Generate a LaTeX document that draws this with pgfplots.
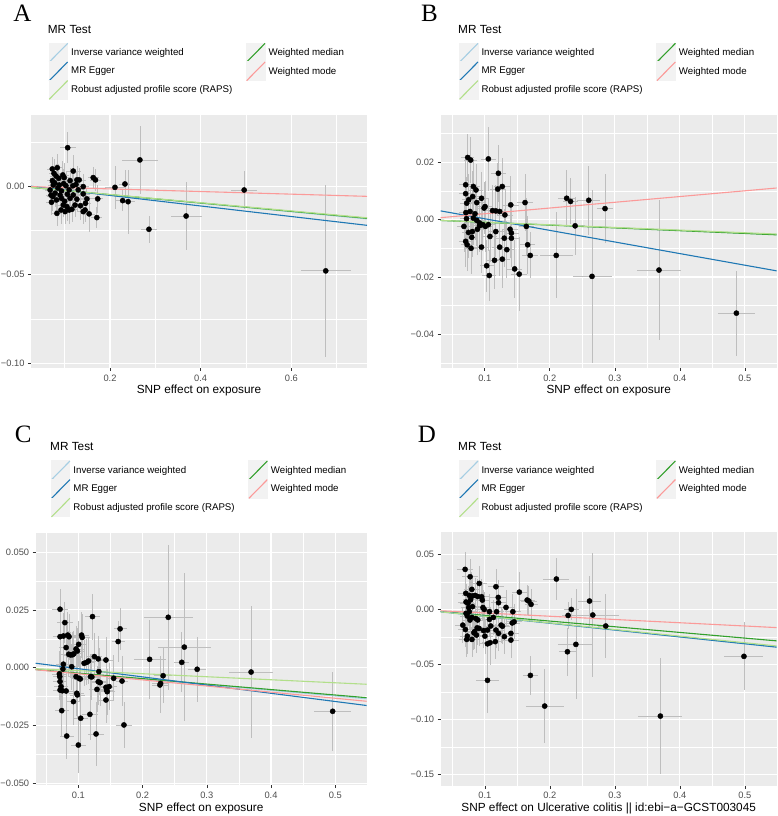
\documentclass[border=0pt]{standalone}
\usepackage{fontspec}
\setmainfont{Liberation Sans}
\newfontfamily\letterfont{Liberation Serif}
\usepackage{pgfplots}
\usepackage{pgfplotstable}
\pgfplotsset{compat=1.18}

\definecolor{ggbg}{HTML}{EBEBEB}
\definecolor{ggkey}{HTML}{F2F2F2}
\definecolor{ggerr}{HTML}{BEBEBE}
\definecolor{ggtick}{HTML}{333333}
\definecolor{ggtxt}{HTML}{4D4D4D}
\definecolor{cIVW}{HTML}{A6CEE3}
\definecolor{cEgger}{HTML}{1F78B4}
\definecolor{cRAPS}{HTML}{B2DF8A}
\definecolor{cWMed}{HTML}{33A02C}
\definecolor{cWMode}{HTML}{FB9A99}

\tikzset{
  ivw/.style={color=cIVW, line width=1.1pt},
  egger/.style={color=cEgger, line width=1.1pt},
  raps/.style={color=cRAPS, line width=1.1pt},
  wmed/.style={color=cWMed, line width=1.1pt},
  wmode/.style={color=cWMode, line width=1.1pt},
}

\pgfplotsset{
  ggplot/.style={
    scale only axis, anchor=south west, enlargelimits=false,
    scaled x ticks=false, scaled y ticks=false,
    axis background/.style={fill=ggbg},
    axis line style={draw=none},
    grid=both,
    major grid style={color=white, line width=1.1pt},
    minor grid style={color=white, line width=0.55pt},
    tick align=outside, tick pos=left,
    major tick length=3pt, minor tick length=0pt,
    tick style={color=ggtick, line width=0.55pt},
    ticklabel style={font=\fontsize{9.3}{10}\selectfont, text=ggtxt},
    xlabel style={font=\fontsize{11.8}{13}\selectfont, at={(axis description cs:0.5,0)}, anchor=base, yshift=-26pt},
    legend columns=2,
    legend cell align=left,
    legend style={draw=none, fill=none, anchor=north west,
      font=\fontsize{9.7}{11}\selectfont,
      inner sep=0pt, outer sep=0pt, row sep=-1.2pt,
      nodes={inner xsep=3pt, inner ysep=0pt},
      /tikz/column 2/.style={column sep=10.7pt}},
    legend image code/.code={
      \fill[ggkey] (0pt,-9.35pt) rectangle (18.4pt,9.35pt);
      \draw[overlay] (0pt,-9.35pt) -- (18.4pt,9.35pt);},
  },
  errs/.style={draw=none, mark=none, forget plot,
    error bars/.cd, x dir=both, x explicit, y dir=both, y explicit,
    error mark=none, error bar style={draw=ggerr, line width=0.75pt}},
  pts/.style={only marks, mark=*, mark size=2.6pt, color=black, forget plot},
}

% panel A
\pgfplotstableread{
x y xe ye
0.1067 0.0218 0.018 0.0088
0.266 0.0149 0.040 0.019
0.211 -0.0006 0.022 0.012
0.233 0.0013 0.012 0.008
0.228 -0.0081 0.014 0.006
0.240 -0.0087 0.015 0.018
0.286 -0.0243 0.017 0.0077
0.368 -0.0168 0.034 0.019
0.496 -0.0021 0.029 0.011
0.676 -0.0478 0.055 0.0485
0.0728 0.0098 0.012 0.007
0.0838 0.0105 0.013 0.008
0.0765 0.0073 0.012 0.008
0.081 0.0058 0.013 0.007
0.119 0.0086 0.016 0.009
0.096 0.0064 0.014 0.008
0.099 0.0049 0.015 0.008
0.112 0.0032 0.016 0.007
0.127 0.0036 0.017 0.008
0.132 0.0036 0.016 0.007
0.163 0.0049 0.012 0.006
0.168 0.0036 0.013 0.006
0.073 0.0032 0.012 0.007
0.075 0.0007 0.012 0.008
0.088 0.0007 0.013 0.007
0.103 0.0003 0.015 0.008
0.141 -0.0002 0.013 0.007
0.118 0.0003 0.015 0.008
0.068 -0.0021 0.011 0.007
0.079 -0.0039 0.012 0.008
0.093 -0.0026 0.014 0.007
0.106 -0.0045 0.015 0.008
0.119 -0.0049 0.015 0.007
0.141 -0.0043 0.014 0.006
0.074 -0.0058 0.012 0.008
0.082 -0.0077 0.012 0.007
0.093 -0.0068 0.014 0.008
0.071 -0.0090 0.012 0.007
0.112 -0.0068 0.015 0.008
0.127 -0.0073 0.015 0.007
0.149 -0.0071 0.013 0.006
0.146 -0.0096 0.013 0.007
0.173 -0.0071 0.012 0.008
0.097 -0.0106 0.014 0.007
0.105 -0.0115 0.015 0.008
0.123 -0.0106 0.015 0.007
0.116 -0.0130 0.014 0.007
0.092 -0.0134 0.013 0.008
0.101 -0.0143 0.014 0.007
0.145 -0.0134 0.012 0.007
0.083 -0.0153 0.012 0.007
0.110 -0.0134 0.014 0.008
0.154 -0.0156 0.013 0.010
0.171 -0.0177 0.012 0.006
0.141 -0.0143 0.012 0.007
0.085 -0.0010 0.013 0.008
0.078 0.0020 0.012 0.007
0.090 -0.0050 0.013 0.008
0.100 -0.0085 0.014 0.007
0.130 -0.0020 0.015 0.007
0.135 -0.0110 0.014 0.008
0.098 0.0015 0.014 0.008
0.125 0.0010 0.015 0.007
0.110 -0.0020 0.015 0.007
0.087 0.0045 0.013 0.008
0.070 -0.0050 0.011 0.007
}\dataA

% panel B
\pgfplotstableread{
x y xe ye
0.0738 0.0216 0.010 0.0081
0.0784 0.0207 0.010 0.0080
0.1056 0.0211 0.012 0.011
0.121 0.0161 0.012 0.010
0.127 0.0115 0.012 0.010
0.120 0.0106 0.012 0.009
0.0707 0.0121 0.010 0.009
0.0825 0.0115 0.010 0.009
0.0866 0.0103 0.011 0.009
0.0707 0.0090 0.010 0.009
0.0815 0.0080 0.010 0.009
0.0754 0.0069 0.010 0.009
0.0723 0.0057 0.010 0.009
0.0877 0.0059 0.011 0.009
0.095 0.0074 0.011 0.009
0.1005 0.0045 0.011 0.009
0.099 0.0040 0.011 0.009
0.140 0.0051 0.012 0.010
0.162 0.0059 0.012 0.010
0.071 0.0024 0.010 0.009
0.0774 0.0028 0.010 0.009
0.085 0.0020 0.011 0.009
0.112 0.0031 0.012 0.009
0.117 0.0030 0.012 0.009
0.123 0.0028 0.012 0.009
0.131 0.0016 0.012 0.009
0.072 0.0003 0.010 0.009
0.0825 0.0005 0.010 0.009
0.0877 -0.0003 0.011 0.009
0.092 -0.0012 0.011 0.009
0.097 -0.0018 0.011 0.009
0.101 -0.0024 0.011 0.009
0.092 -0.0022 0.011 0.009
0.1056 -0.0018 0.011 0.009
0.068 -0.0024 0.010 0.009
0.075 -0.0045 0.010 0.009
0.081 -0.0042 0.010 0.009
0.0887 -0.0034 0.011 0.009
0.117 -0.0042 0.012 0.009
0.139 -0.0034 0.012 0.010
0.141 -0.0047 0.012 0.010
0.164 -0.0024 0.012 0.010
0.0707 -0.0076 0.010 0.009
0.073 -0.0088 0.010 0.009
0.080 -0.0062 0.010 0.009
0.079 -0.0100 0.010 0.009
0.108 -0.0059 0.011 0.009
0.130 -0.0065 0.012 0.010
0.141 -0.0065 0.012 0.010
0.095 -0.0096 0.011 0.009
0.123 -0.0096 0.012 0.010
0.134 -0.0105 0.012 0.010
0.166 -0.0088 0.012 0.010
0.170 -0.0125 0.012 0.008
0.115 -0.0142 0.012 0.010
0.127 -0.0138 0.012 0.010
0.103 -0.0161 0.011 0.009
0.107 -0.0195 0.011 0.009
0.146 -0.0172 0.012 0.010
0.153 -0.0190 0.012 0.013
0.210 -0.0125 0.025 0.015
0.226 0.0074 0.013 0.010
0.232 0.0063 0.012 0.008
0.239 -0.0022 0.015 0.010
0.260 0.0067 0.018 0.012
0.285 0.0038 0.013 0.012
0.265 -0.0198 0.030 0.030
0.368 -0.0176 0.034 0.0245
0.487 -0.0326 0.029 0.0148
}\dataB

% panel C
\pgfplotstableread{
x y xe ye
0.0715 0.0253 0.012 0.0088
0.079 0.0195 0.012 0.009
0.122 0.0221 0.012 0.010
0.0715 0.0134 0.011 0.010
0.0767 0.0137 0.011 0.010
0.0834 0.0141 0.011 0.010
0.0855 0.0134 0.011 0.010
0.081 0.0087 0.011 0.010
0.085 0.0058 0.012 0.010
0.088 0.0055 0.012 0.010
0.093 0.0060 0.012 0.010
0.091 0.0056 0.012 0.010
0.0964 0.0081 0.012 0.010
0.1005 0.0101 0.012 0.010
0.0985 0.0072 0.012 0.010
0.105 0.0141 0.012 0.010
0.106 0.0131 0.012 0.010
0.162 0.0113 0.010 0.009
0.165 0.0168 0.010 0.009
0.109 0.0019 0.012 0.010
0.113 0.0023 0.012 0.010
0.116 0.0029 0.012 0.010
0.125 0.0048 0.012 0.010
0.131 0.0038 0.012 0.010
0.143 0.0033 0.012 0.010
0.0767 0.0015 0.011 0.010
0.0897 0.0004 0.011 0.010
0.0705 -0.0027 0.011 0.010
0.071 -0.0039 0.011 0.010
0.076 -0.0006 0.011 0.010
0.0964 -0.0039 0.012 0.010
0.101 -0.0046 0.012 0.010
0.103 -0.0049 0.012 0.010
0.119 -0.0039 0.012 0.010
0.121 -0.0040 0.012 0.010
0.132 -0.0017 0.012 0.010
0.131 -0.0061 0.012 0.010
0.134 -0.0065 0.012 0.010
0.129 -0.0094 0.012 0.010
0.143 -0.0085 0.012 0.010
0.144 -0.0097 0.012 0.010
0.145 -0.0104 0.012 0.010
0.143 -0.0140 0.012 0.010
0.148 -0.0082 0.012 0.010
0.155 -0.0046 0.012 0.010
0.168 -0.0058 0.010 0.011
0.0715 -0.0060 0.011 0.010
0.073 -0.0082 0.011 0.010
0.0715 -0.0097 0.011 0.010
0.081 -0.0101 0.011 0.010
0.075 -0.0100 0.011 0.010
0.0975 -0.0111 0.012 0.010
0.0985 -0.0118 0.012 0.010
0.0924 -0.0147 0.012 0.010
0.0741 -0.0186 0.011 0.011
0.118 -0.0202 0.012 0.011
0.1037 -0.0219 0.012 0.011
0.171 -0.0248 0.012 0.010
0.1276 -0.0287 0.012 0.014
0.0819 -0.0296 0.011 0.010
0.100 -0.0335 0.012 0.012
0.211 0.0036 0.025 0.017
0.240 0.0218 0.038 0.0315
0.265 0.0089 0.041 0.032
0.261 0.0023 0.012 0.013
0.232 -0.0035 0.014 0.012
0.227 -0.0075 0.013 0.012
0.228 -0.0068 0.013 0.012
0.285 -0.0007 0.014 0.014
0.369 -0.0019 0.034 0.0286
0.496 -0.0189 0.029 0.017
}\dataC

% panel D
\pgfplotstableread{
x y xe ye
0.0696 0.0367 0.012 0.016
0.0773 0.0300 0.012 0.016
0.0913 0.0239 0.012 0.016
0.0706 0.0149 0.012 0.016
0.0799 0.0185 0.012 0.016
0.117 0.0209 0.012 0.016
0.1206 0.0112 0.012 0.016
0.153 0.0160 0.012 0.018
0.165 0.0088 0.012 0.014
0.1676 0.0079 0.012 0.014
0.171 0.0049 0.010 0.014
0.210 0.0279 0.020 0.019
0.261 0.0079 0.018 0.023
0.266 -0.0048 0.041 0.056
0.233 0.0003 0.012 0.010
0.228 -0.0052 0.010 0.012
0.286 -0.0148 0.012 0.029
0.227 -0.0382 0.013 0.022
0.240 -0.0315 0.027 0.050
0.170 -0.0597 0.012 0.0177
0.192 -0.0876 0.029 0.034
0.104 -0.0642 0.0175 0.030
0.370 -0.0967 0.034 0.053
0.4986 -0.0424 0.030 0.031
0.076 0.0130 0.012 0.016
0.081 0.0125 0.012 0.016
0.085 0.0130 0.012 0.016
0.089 0.0120 0.012 0.016
0.071 0.0070 0.012 0.016
0.074 0.0060 0.012 0.016
0.078 0.0090 0.012 0.016
0.095 0.0118 0.012 0.016
0.096 0.0088 0.012 0.016
0.081 0.0028 0.012 0.016
0.097 0.0020 0.012 0.016
0.099 0.0003 0.012 0.016
0.107 -0.0018 0.012 0.016
0.118 -0.0018 0.012 0.016
0.121 0.0064 0.012 0.016
0.1325 0.0021 0.012 0.016
0.143 -0.0018 0.012 0.016
0.145 -0.0110 0.012 0.016
0.142 -0.0120 0.012 0.016
0.140 -0.0215 0.012 0.016
0.140 -0.0276 0.012 0.016
0.130 -0.0245 0.012 0.016
0.125 -0.0140 0.012 0.016
0.127 -0.0150 0.012 0.016
0.113 -0.0070 0.012 0.016
0.107 -0.0088 0.012 0.016
0.109 -0.0148 0.012 0.016
0.117 -0.0185 0.012 0.016
0.121 -0.0215 0.012 0.016
0.116 -0.0290 0.012 0.016
0.108 -0.0300 0.012 0.020
0.104 -0.0310 0.012 0.020
0.100 -0.0240 0.012 0.016
0.104 -0.0185 0.012 0.016
0.091 -0.0170 0.012 0.016
0.098 -0.0190 0.012 0.016
0.088 -0.0165 0.012 0.016
0.084 -0.0200 0.012 0.016
0.087 -0.0230 0.012 0.016
0.077 -0.0094 0.012 0.016
0.080 -0.0070 0.012 0.016
0.071 -0.0033 0.012 0.016
0.073 -0.0057 0.012 0.016
0.066 -0.0140 0.012 0.016
0.070 -0.0180 0.012 0.016
0.073 -0.0240 0.012 0.016
0.072 -0.0270 0.012 0.016
0.080 -0.0270 0.012 0.016
0.083 -0.0210 0.012 0.016
0.086 -0.0080 0.012 0.016
0.089 -0.0093 0.012 0.016
0.075 0.0020 0.012 0.016
0.076 -0.0018 0.012 0.016
}\dataD

\begin{document}
\begin{tikzpicture}
\useasboundingbox (0pt,0pt) rectangle (778pt,816pt);

% ---------- A ----------
\begin{axis}[ggplot, at={(31pt,448pt)}, width=336pt, height=253pt,
  xmin=0.0258, xmax=0.767, ymin=-0.1027, ymax=0.0403,
  xtick={0.2,0.4,0.6}, xticklabels={0.2,0.4,0.6},
  minor xtick={0.1,0.3,0.5,0.7},
  ytick={-0.1,-0.05,0}, yticklabels={−0.10,−0.05,0.00},
  minor ytick={-0.075,-0.025,0.025},
  xlabel={SNP effect on exposure},
  legend style={at={(0.0527,1.2853)}}]
  \addplot[errs] table[x=x, y=y, x error=xe, y error=ye] {\dataA};
  \addplot[pts] table[x=x, y=y] {\dataA};
  \addplot[ivw] coordinates {(0.0258,-0.00062) (0.767,-0.01841)};
  \addlegendentry{Inverse variance weighted}
  \addplot[wmed] coordinates {(0.0258,-0.00061) (0.767,-0.0181)};
  \addlegendentry{Weighted median}
  \addplot[egger] coordinates {(0.0258,0.00003) (0.767,-0.02206)};
  \addlegendentry{MR Egger}
  \addplot[wmode] coordinates {(0.0258,-0.00019) (0.767,-0.00568)};
  \addlegendentry{Weighted mode}
  \addplot[raps] coordinates {(0.0258,-0.0006) (0.767,-0.0178)};
  \addlegendentry{Robust adjusted profile score (RAPS)}
\end{axis}

% ---------- B ----------
\begin{axis}[ggplot, at={(440.7pt,448pt)}, width=336pt, height=253pt,
  xmin=0.0323, xmax=0.549, ymin=-0.0517, ymax=0.0364,
  xtick={0.1,0.2,0.3,0.4,0.5}, xticklabels={0.1,0.2,0.3,0.4,0.5},
  minor xtick={0.05,0.15,0.25,0.35,0.45},
  ytick={-0.04,-0.02,0,0.02}, yticklabels={−0.04,−0.02,0.00,0.02},
  minor ytick={-0.05,-0.03,-0.01,0.01,0.03},
  xlabel={SNP effect on exposure},
  legend style={at={(0.0545,1.2853)}}]
  \addplot[errs] table[x=x, y=y, x error=xe, y error=ye] {\dataB};
  \addplot[pts] table[x=x, y=y] {\dataB};
  \addplot[ivw] coordinates {(0.0323,-0.00031) (0.549,-0.00522)};
  \addlegendentry{Inverse variance weighted}
  \addplot[wmed] coordinates {(0.0323,-0.00031) (0.549,-0.00533)};
  \addlegendentry{Weighted median}
  \addplot[egger] coordinates {(0.0323,0.0030) (0.549,-0.01788)};
  \addlegendentry{MR Egger}
  \addplot[wmode] coordinates {(0.0323,0.00065) (0.549,0.01098)};
  \addlegendentry{Weighted mode}
  \addplot[raps] coordinates {(0.0323,-0.0003) (0.549,-0.00505)};
  \addlegendentry{Robust adjusted profile score (RAPS)}
\end{axis}

% ---------- C ----------
\begin{axis}[ggplot, at={(35.7pt,31pt)}, width=331pt, height=252pt,
  xmin=0.0336, xmax=0.549, ymin=-0.0508, ymax=0.0583,
  xtick={0.1,0.2,0.3,0.4,0.5}, xticklabels={0.1,0.2,0.3,0.4,0.5},
  minor xtick={0.05,0.15,0.25,0.35,0.45},
  ytick={-0.05,-0.025,0,0.025,0.05}, yticklabels={−0.050,−0.025,0.000,0.025,0.050},
  minor ytick={-0.0375,-0.0125,0.0125,0.0375},
  xlabel={SNP effect on exposure},
  legend style={at={(0.0462,1.2878)}}]
  \addplot[errs] table[x=x, y=y, x error=xe, y error=ye] {\dataC};
  \addplot[pts] table[x=x, y=y] {\dataC};
  \addplot[ivw] coordinates {(0.0336,-0.00082) (0.549,-0.01345)};
  \addlegendentry{Inverse variance weighted}
  \addplot[wmed] coordinates {(0.0336,-0.0008) (0.549,-0.0130)};
  \addlegendentry{Weighted median}
  \addplot[egger] coordinates {(0.0336,0.00191) (0.549,-0.01639)};
  \addlegendentry{MR Egger}
  \addplot[wmode] coordinates {(0.0336,-0.00089) (0.549,-0.01455)};
  \addlegendentry{Weighted mode}
  \addplot[raps] coordinates {(0.0336,-0.00044) (0.549,-0.00719)};
  \addlegendentry{Robust adjusted profile score (RAPS)}
\end{axis}

% ---------- D ----------
\begin{axis}[ggplot, at={(440.7pt,30.3pt)}, width=336pt, height=253.4pt,
  xmin=0.032, xmax=0.549, ymin=-0.160, ymax=0.0704,
  xtick={0.1,0.2,0.3,0.4,0.5}, xticklabels={0.1,0.2,0.3,0.4,0.5},
  minor xtick={0.05,0.15,0.25,0.35,0.45},
  ytick={-0.15,-0.1,-0.05,0,0.05}, yticklabels={−0.15,−0.10,−0.05,0.00,0.05},
  minor ytick={-0.125,-0.075,-0.025,0.025},
  xlabel={SNP effect on Ulcerative colitis || id:ebi−a−GCST003045},
  legend style={at={(0.0545,1.2835)}}]
  \addplot[errs] table[x=x, y=y, x error=xe, y error=ye] {\dataD};
  \addplot[pts] table[x=x, y=y] {\dataD};
  \addplot[ivw] coordinates {(0.032,-0.00198) (0.549,-0.03404)};
  \addlegendentry{Inverse variance weighted}
  \addplot[wmed] coordinates {(0.032,-0.00165) (0.549,-0.02833)};
  \addlegendentry{Weighted median}
  \addplot[egger] coordinates {(0.032,-0.0017) (0.549,-0.0340)};
  \addlegendentry{MR Egger}
  \addplot[wmode] coordinates {(0.032,-0.00095) (0.549,-0.01625)};
  \addlegendentry{Weighted mode}
  \addplot[raps] coordinates {(0.032,-0.00192) (0.549,-0.03294)};
  \addlegendentry{Robust adjusted profile score (RAPS)}
\end{axis}

% panel letters and legend titles
\node[inner sep=0pt] at (22.5pt,802.7pt) {\letterfont\fontsize{25}{25}\selectfont A};
\node[inner sep=0pt] at (429.5pt,802.7pt) {\letterfont\fontsize{25}{25}\selectfont B};
\node[inner sep=0pt] at (23.3pt,381.8pt) {\letterfont\fontsize{25}{25}\selectfont C};
\node[inner sep=0pt] at (427pt,381.8pt) {\letterfont\fontsize{25}{25}\selectfont D};
\node[inner sep=0pt, anchor=west] at (47.7pt,786.7pt) {\fontsize{11.8}{13}\selectfont MR Test};
\node[inner sep=0pt, anchor=west] at (458pt,786.7pt) {\fontsize{11.8}{13}\selectfont MR Test};
\node[inner sep=0pt, anchor=west] at (50pt,369.3pt) {\fontsize{11.8}{13}\selectfont MR Test};
\node[inner sep=0pt, anchor=west] at (458pt,369.3pt) {\fontsize{11.8}{13}\selectfont MR Test};
\end{tikzpicture}
\end{document}
